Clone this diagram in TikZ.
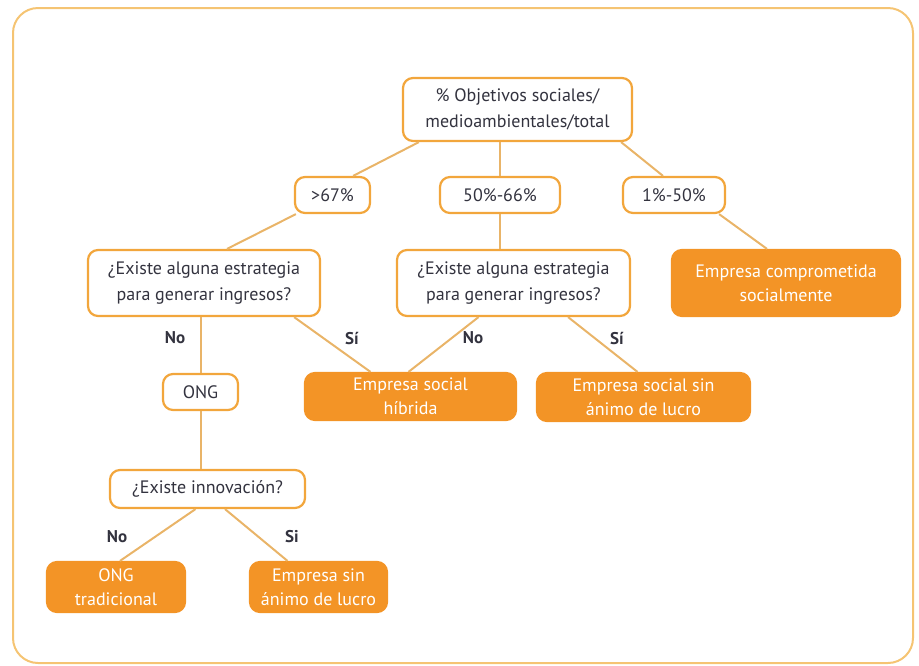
\documentclass[tikz,border=0pt]{standalone}
\usepackage{fontspec}
\setmainfont{PT Sans}
\definecolor{txt}{HTML}{33333F}
\definecolor{orfill}{HTML}{F39426}
\definecolor{orline}{HTML}{F2A63C}
\definecolor{conn}{HTML}{E9B468}
\definecolor{frame}{HTML}{F5C473}
\begin{document}
\begin{tikzpicture}[x=1pt,y=-1pt,
  qbox/.style={draw=orline,line width=2.2pt,rounded corners=10pt,fill=white,text=txt,align=center,font=\fontsize{18}{26}\selectfont,inner sep=0pt},
  rbox/.style={draw=orfill,line width=2.2pt,rounded corners=10pt,fill=orfill,text=white,align=center,font=\fontsize{18}{24}\selectfont,inner sep=0pt},
  conline/.style={draw=conn,line width=2pt},
  lbl/.style={text=txt,font=\fontsize{17}{20}\selectfont\bfseries,inner sep=0pt}]
\useasboundingbox (0,0) rectangle (919,665);
\draw[frame,line width=2pt,rounded corners=25pt] (13,8) rectangle (913,663);
% nodes
\node[qbox,minimum width=229pt,minimum height=63pt] (top) at (517.5,109.5) {\% Objetivos sociales/\\medioambientales/total};
\node[qbox,minimum width=75pt,minimum height=36pt] (gt) at (332.5,195) {>67\%};
\node[qbox,minimum width=120pt,minimum height=36pt] (mid) at (500,195) {50\%-66\%};
\node[qbox,minimum width=102pt,minimum height=36pt] (low) at (674,195) {1\%-50\%};
\node[qbox,minimum width=232pt,minimum height=66pt] (q1) at (204,283) {¿Existe alguna estrategia\\para generar ingresos?};
\node[qbox,minimum width=233pt,minimum height=66pt] (q2) at (513.5,283) {¿Existe alguna estrategia\\para generar ingresos?};
\node[rbox,minimum width=228pt,minimum height=66pt] (emc) at (786,283) {Empresa comprometida\\socialmente};
\node[qbox,minimum width=75pt,minimum height=36pt] (ong) at (200.5,392) {ONG};
\node[rbox,minimum width=211pt,minimum height=47pt] (esh) at (410.5,396.5) {Empresa social\\híbrida};
\node[rbox,minimum width=213pt,minimum height=48pt] (essl) at (643.5,397) {Empresa social sin\\ánimo de lucro};
\node[qbox,minimum width=195pt,minimum height=38pt] (inn) at (207.5,489) {¿Existe innovación?};
\node[rbox,minimum width=138pt,minimum height=50pt] (ongt) at (116,587) {ONG\\tradicional};
\node[rbox,minimum width=137pt,minimum height=50pt] (esal) at (318.5,587) {Empresa sin\\ánimo de lucro};
% labels
\node[lbl] (l1) at (175,338) {No};
\node[lbl] (l2) at (352,338) {Sí};
\node[lbl] (l3) at (473,338) {No};
\node[lbl] (l4) at (617,338) {Sí};
\node[lbl] (l5) at (117,537) {No};
\node[lbl] (l6) at (292,537) {Si};
% connectors
\draw[conline] ([xshift=17pt]top.south west) -- ([xshift=-18pt]gt.north east);
\draw[conline] (mid.north |- top.south) -- (mid.north);
\draw[conline] ([xshift=-12pt]top.south east) -- ([xshift=-11pt]low.north);
\draw[conline] ([xshift=2pt]gt.south west) -- ([xshift=23pt]q1.north);
\draw[conline] (mid.south) -- (mid.south |- q2.north);
\draw[conline] ([xshift=-7pt]low.south east) -- ([xshift=-19pt]emc.north);
\draw[conline] (ong.north |- q1.south) -- (ong.north);
\draw[conline] ([xshift=-27pt]q1.south east) -- ([xshift=-40pt]esh.north);
\draw[conline] ([xshift=-35pt]q2.south) -- ([xshift=-2pt]esh.north);
\draw[conline] ([xshift=-63pt]q2.south east) -- ([xshift=-6pt]essl.north);
\draw[conline] (ong.south) -- (ong.south |- inn.north);
\draw[conline] ([xshift=-12pt]inn.south) -- ([xshift=4pt]ongt.north);
\draw[conline] ([xshift=17.5pt]inn.south) -- ([xshift=-31pt]esal.north);
\end{tikzpicture}
\end{document}
